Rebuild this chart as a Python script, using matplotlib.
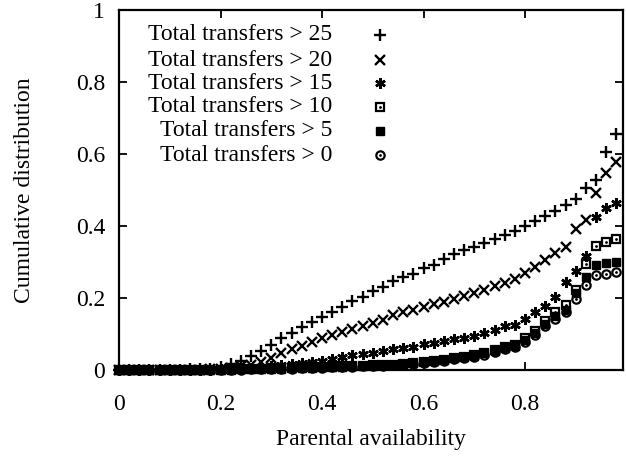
import numpy as np
import matplotlib
matplotlib.use("Agg")
import matplotlib.pyplot as plt

plt.rcParams['font.family'] = ['Liberation Serif', 'DejaVu Serif']
plt.rcParams['font.size'] = 17

# parental availability, one point every 0.02
x = np.round(np.arange(0, 0.99, 0.02), 2)

# Total transfers > 25
gt25 = [0, 0, 0, 0, 0, 0.001, 0.001, 0.002, 0.002, 0.004,
        0.008, 0.017, 0.025, 0.038, 0.052, 0.070, 0.088, 0.104, 0.120, 0.134,
        0.148, 0.162, 0.176, 0.191, 0.204, 0.219, 0.231, 0.246, 0.259, 0.268,
        0.282, 0.293, 0.307, 0.321, 0.333, 0.342, 0.353, 0.363, 0.375, 0.386,
        0.400, 0.414, 0.427, 0.443, 0.457, 0.475, 0.506, 0.529, 0.605, 0.656]
# Total transfers > 20
gt20 = [0, 0, 0, 0, 0, 0, 0, 0, 0.001, 0.002,
        0.003, 0.006, 0.010, 0.015, 0.022, 0.034, 0.047, 0.057, 0.067, 0.079,
        0.089, 0.097, 0.105, 0.115, 0.123, 0.131, 0.140, 0.153, 0.162, 0.168,
        0.176, 0.183, 0.190, 0.197, 0.206, 0.214, 0.223, 0.232, 0.243, 0.253,
        0.270, 0.287, 0.305, 0.324, 0.342, 0.391, 0.416, 0.493, 0.546, 0.578]
# Total transfers > 15
gt15 = [0, 0, 0, 0, 0, 0, 0, 0, 0, 0.001,
        0.002, 0.003, 0.004, 0.006, 0.008, 0.010, 0.013, 0.016, 0.019, 0.021,
        0.025, 0.031, 0.036, 0.041, 0.044, 0.048, 0.052, 0.057, 0.061, 0.065,
        0.071, 0.076, 0.080, 0.085, 0.090, 0.095, 0.102, 0.110, 0.121, 0.125,
        0.141, 0.161, 0.179, 0.204, 0.244, 0.276, 0.318, 0.426, 0.449, 0.465]
# Total transfers > 10
gt10 = [0, 0, 0, 0, 0, 0, 0, 0, 0, 0,
        0.001, 0.002, 0.002, 0.003, 0.004, 0.005, 0.005, 0.006, 0.007, 0.007,
        0.008, 0.009, 0.010, 0.011, 0.012, 0.013, 0.014, 0.015, 0.018, 0.020,
        0.022, 0.026, 0.029, 0.033, 0.037, 0.041, 0.048, 0.056, 0.065, 0.070,
        0.088, 0.108, 0.135, 0.160, 0.180, 0.222, 0.294, 0.344, 0.356, 0.363]
# Total transfers > 5
gt5 = [0, 0, 0, 0, 0, 0, 0, 0, 0, 0,
       0.001, 0.001, 0.002, 0.002, 0.003, 0.004, 0.004, 0.005, 0.006, 0.006,
       0.007, 0.008, 0.009, 0.010, 0.011, 0.012, 0.013, 0.014, 0.017, 0.019,
       0.021, 0.025, 0.028, 0.032, 0.035, 0.039, 0.046, 0.054, 0.062, 0.067,
       0.083, 0.102, 0.128, 0.150, 0.168, 0.213, 0.258, 0.292, 0.296, 0.299]
# Total transfers > 0
gt0 = [0, 0, 0, 0, 0, 0, 0, 0, 0, 0,
       0, 0.001, 0.001, 0.002, 0.002, 0.003, 0.003, 0.004, 0.005, 0.005,
       0.006, 0.007, 0.008, 0.009, 0.010, 0.011, 0.012, 0.013, 0.015, 0.017,
       0.019, 0.023, 0.026, 0.030, 0.033, 0.037, 0.043, 0.051, 0.059, 0.064,
       0.079, 0.098, 0.122, 0.143, 0.160, 0.197, 0.236, 0.264, 0.268, 0.273]

labels = ['Total transfers > 25', 'Total transfers > 20', 'Total transfers > 15',
          'Total transfers > 10', 'Total transfers > 5', 'Total transfers > 0']

xticks = [0, 0.2, 0.4, 0.6, 0.8]
xticklabels = ['0', '0.2', '0.4', '0.6', '0.8']
yticks = [0, 0.2, 0.4, 0.6, 0.8, 1]
yticklabels = ['0', '0.2', '0.4', '0.6', '0.8', '1']

# marker styles, gnuplot-ish (open markers are see-through)
styles = [
    dict(marker='+', ms=8, mew=1.7, mfc='none'),
    dict(marker='x', ms=6.5, mew=1.7, mfc='none'),
    dict(marker=(6, 2, 0), ms=7.5, mew=1.8, mfc='none'),
    dict(marker='s', ms=6.3, mew=1.6, mfc='none'),
    dict(marker='s', ms=6.3, mew=1.0, mfc='black'),
    dict(marker='o', ms=6, mew=1.6, mfc='none'),
]
dotted = [False, False, False, True, False, True]
zorders = [3, 3, 3, 3, 5, 3]

fig = plt.figure(figsize=(6.26, 4.57), dpi=100)
ax = fig.add_axes([119 / 626, 1 - 370 / 457, 504 / 626, 360 / 457])

series = [gt25, gt20, gt15, gt10, gt5, gt0]
for s, st, d, z in zip(series, styles, dotted, zorders):
    ax.plot(x, s, ls='none', color='black', mec='black', clip_on=False, zorder=z, **st)
    if d:
        ax.plot(x, s, ls='none', marker='.', ms=2, color='black', clip_on=False, zorder=4)

# legend drawn gnuplot style: right aligned text, marker to the right
rows = [0.931, 0.861, 0.796, 0.731, 0.665, 0.597]
for lab, st, d, yy in zip(labels, styles, dotted, rows):
    ax.text(0.4226, yy, lab, transform=ax.transAxes, ha='right', va='center')
    ax.plot([0.518], [yy], transform=ax.transAxes, ls='none', color='black',
            mec='black', clip_on=False, **st)
    if d:
        ax.plot([0.518], [yy], transform=ax.transAxes, ls='none', marker='.',
                ms=2, color='black', clip_on=False)

ax.set_xlim(0, 0.993)
ax.set_ylim(0, 1)
ax.set_xticks(xticks)
ax.set_xticklabels(xticklabels)
ax.set_yticks(yticks)
ax.set_yticklabels(yticklabels)
ax.tick_params(direction='in', length=6, width=1.3, top=True, right=True)
ax.tick_params(axis='x', pad=17)
ax.tick_params(axis='y', pad=10)
for sp in ax.spines.values():
    sp.set_linewidth(1.6)

ax.set_xlabel('Parental availability', labelpad=10)
ax.set_ylabel('Cumulative distribution', labelpad=29)

fig.savefig('out.png', dpi=100)
